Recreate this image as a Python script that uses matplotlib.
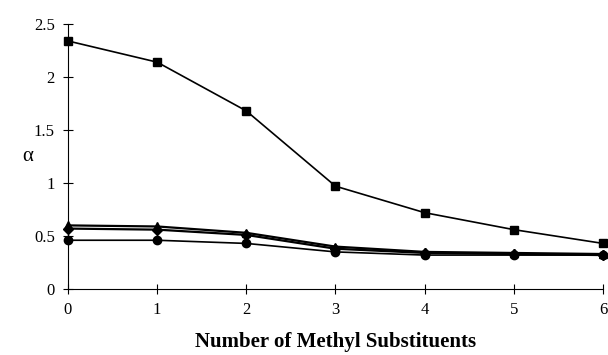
import matplotlib
matplotlib.use('Agg')
import matplotlib.pyplot as plt
from matplotlib.ticker import FuncFormatter

# data
methyl = [0, 1, 2, 3, 4, 5, 6]
alpha_sq = [2.34, 2.14, 1.68, 0.97, 0.72, 0.56, 0.43]
alpha_tri = [0.60, 0.59, 0.53, 0.40, 0.35, 0.34, 0.33]
alpha_dia = [0.57, 0.56, 0.51, 0.38, 0.34, 0.33, 0.32]
alpha_circ = [0.46, 0.46, 0.43, 0.35, 0.32, 0.32, 0.32]
yticks = [0, 0.5, 1, 1.5, 2, 2.5]

plt.rcParams['font.family'] = ['Liberation Serif', 'DejaVu Serif']

fig = plt.figure(figsize=(6.08, 3.55), dpi=100)
ax = fig.add_axes([0.1118, 0.1859, 0.88, 0.7465])

ax.plot(methyl, alpha_sq, color='black', lw=1.2, marker='s', ms=6, clip_on=False)
ax.plot(methyl, alpha_tri, color='black', lw=1.6, marker='^', ms=6, clip_on=False)
ax.plot(methyl, alpha_dia, color='black', lw=1.6, marker='D', ms=5, clip_on=False)
ax.plot(methyl, alpha_circ, color='black', lw=1.2, marker='o', ms=6, clip_on=False)

ax.set_xlim(0, 6)
ax.set_ylim(0, 2.5)
ax.set_xticks(methyl)
ax.set_yticks(yticks)
ax.yaxis.set_major_formatter(FuncFormatter(lambda v, p: '%g' % v))
ax.spines['top'].set_visible(False)
ax.spines['right'].set_visible(False)
ax.spines['left'].set_linewidth(0.8)
ax.spines['bottom'].set_linewidth(0.8)
ax.tick_params(direction='inout', length=7, width=0.8, labelsize=12, pad=6)

ax.set_xlabel('Number of Methyl Substituents', fontsize=15, fontweight='bold', labelpad=10)
ax.yaxis.set_label_coords(-0.075, 0.5)
ax.set_ylabel('α', fontsize=15, rotation=0, va='center', ha='center')

fig.savefig('out.png', dpi=100)
